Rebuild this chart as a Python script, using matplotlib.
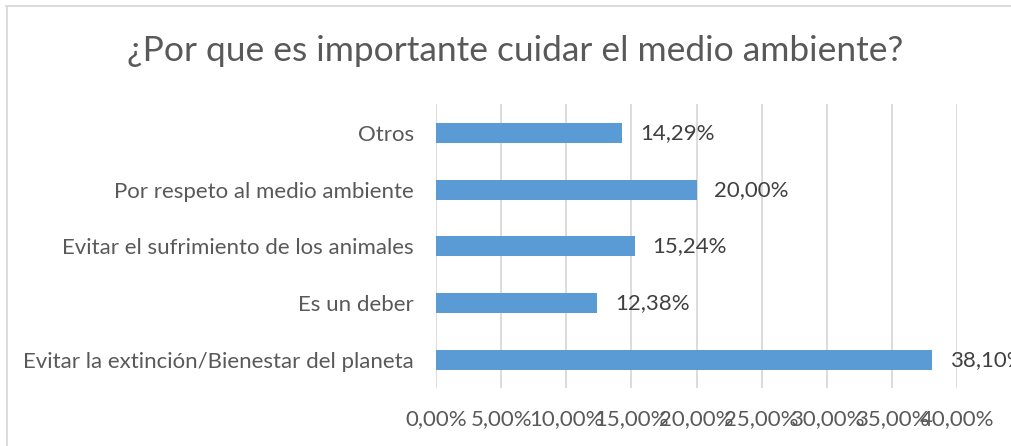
import matplotlib
matplotlib.use('Agg')
import matplotlib.pyplot as plt
from matplotlib.lines import Line2D

categorias = ['Evitar la extinción/Bienestar del planeta', 'Es un deber',
              'Evitar el sufrimiento de los animales', 'Por respeto al medio ambiente',
              'Otros']
valores = [38.10, 12.38, 15.24, 20.00, 14.29]
ticks = [0, 5, 10, 15, 20, 25, 30, 35, 40]
titulo = '¿Por que es importante cuidar el medio ambiente?'

plt.rcParams['font.family'] = ['Lato', 'DejaVu Sans']

fig = plt.figure(figsize=(10.11, 4.46), dpi=100)
ax = fig.add_axes([0.4313, 0.129, 0.5153, 0.637])

y = range(len(categorias))
ax.barh(y, valores, height=0.35, color='#5B9BD5', zorder=3)
for yi, v in zip(y, valores):
    ax.text(v + 1.35, yi, ('%.2f%%' % v).replace('.', ','), va='center', ha='left',
            fontsize=16, color='#404040', zorder=4)

ax.set_xlim(0, 40)
ax.set_ylim(-0.5, len(categorias) - 0.5)
ax.set_xticks(ticks)
ax.set_xticklabels([('%.2f%%' % t).replace('.', ',') for t in ticks])
ax.set_yticks(list(y))
ax.set_yticklabels(categorias)
ax.tick_params(axis='x', length=0, pad=15, labelsize=16, labelcolor='#595959')
ax.tick_params(axis='y', length=0, pad=16, labelsize=16, labelcolor='#595959')
ax.grid(axis='x', color='#D9D9D9', linewidth=1.3, zorder=0)
for s in ax.spines.values():
    s.set_visible(False)

fig.text(0.5094, 0.885, titulo, ha='center', va='center', fontsize=25.5, color='#595959')

# chart frame
fig.add_artist(Line2D([0.0055, 1.0], [0.986, 0.986], transform=fig.transFigure, color='#D9D9D9', lw=1.3))
fig.add_artist(Line2D([0.0065, 0.0065], [0.0, 0.986], transform=fig.transFigure, color='#D9D9D9', lw=1.3))

fig.savefig('out.png', dpi=100)
